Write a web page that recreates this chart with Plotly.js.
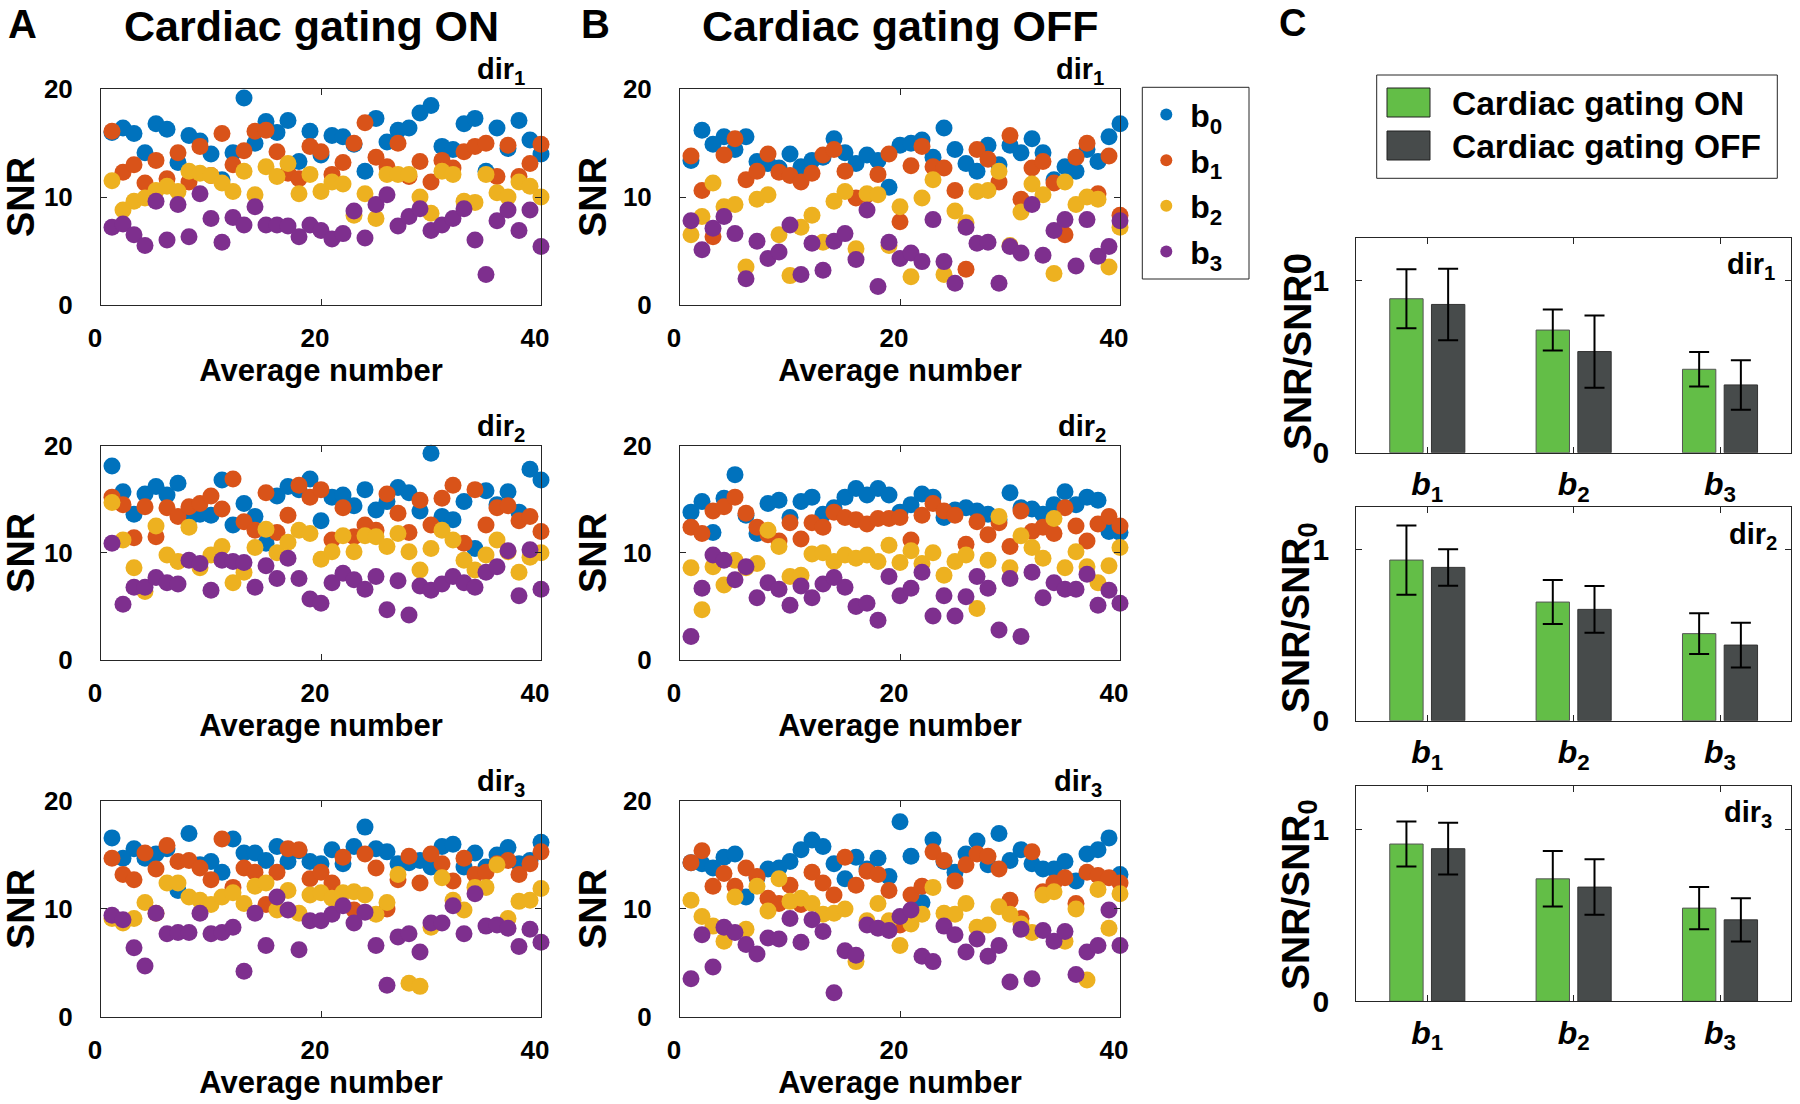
<!DOCTYPE html>
<html>
<head>
<meta charset="utf-8">
<script src="https://cdn.plot.ly/plotly-3.0.1.min.js"></script>
<style>html,body{margin:0;padding:0;background:#fff;}#chart{width:1800px;height:1104px;}</style>
</head>
<body>
<div id="chart"></div>
<script>
// ---------- data ----------
const avgNumber = [1,2,3,4,5,6,7,8,9,10,11,12,13,14,15,16,17,18,19,20,21,22,23,24,25,26,27,28,29,30,31,32,33,34,35,36,37,38,39,40];
const seriesNames = ['b<sub>0</sub>','b<sub>1</sub>','b<sub>2</sub>','b<sub>3</sub>'];

// Cardiac gating ON
const onD1_b0 = [16.0,16.4,15.9,14.1,16.8,16.3,13.2,15.7,15.2,14.0,11.6,14.1,19.2,15.0,17.0,16.0,17.1,13.3,16.1,13.9,15.7,15.6,14.9,12.4,17.3,15.1,16.2,16.4,17.8,18.5,14.7,14.4,16.8,17.3,12.4,16.4,14.5,17.1,15.3,14.0];
const onD1_b1 = [16.1,12.3,13.0,11.3,13.4,11.7,14.1,11.4,14.7,12.0,15.9,13.0,14.3,16.1,16.2,14.2,12.2,11.7,14.7,14.2,12.1,13.2,15.0,16.9,13.7,12.8,15.0,11.9,13.3,11.4,13.4,12.7,14.2,14.7,15.0,11.9,14.8,11.9,13.1,14.9];
const onD1_b2 = [11.5,8.8,9.6,9.9,10.6,11.0,10.5,12.4,12.2,12.0,11.3,10.5,12.4,10.2,12.8,11.9,13.1,10.3,12.1,10.5,11.4,11.2,8.3,10.3,8.0,12.1,12.1,12.1,10.0,8.5,12.4,12.1,9.6,9.5,12.1,10.4,10.0,11.4,11.0,10.0];
const onD1_b3 = [7.2,7.5,6.5,5.5,9.6,6.0,9.3,6.3,10.3,8.0,5.8,8.1,7.4,9.1,7.4,7.4,7.3,6.3,7.4,6.9,6.1,6.6,8.7,6.2,9.3,10.2,7.3,8.2,8.9,6.9,7.4,8.0,8.9,6.0,2.8,7.8,8.8,6.9,8.8,5.4];

const onD2_b0 = [18.1,15.7,13.6,15.5,16.2,15.4,16.5,13.2,13.6,13.5,16.8,12.6,14.6,13.4,10.9,15.3,16.2,15.9,16.9,13.0,15.2,15.4,14.4,15.9,14.0,14.8,16.1,15.6,13.9,19.3,13.4,13.1,14.8,10.4,15.8,14.5,15.7,13.8,17.8,16.8];
const onD2_b1 = [15.2,14.5,11.4,14.3,11.5,14.2,13.4,14.3,14.6,15.3,14.1,16.9,12.9,12.1,15.6,11.9,13.5,16.3,15.2,15.9,11.2,14.2,11.5,12.6,12.1,15.5,13.7,11.9,14.9,12.6,15.1,16.3,10.9,15.9,12.6,14.2,14.4,13.0,13.4,12.0];
const onD2_b2 = [14.7,11.2,8.6,6.4,12.5,9.8,9.2,12.4,8.6,9.8,10.6,7.2,8.2,10.5,12.2,10.0,11.0,12.1,11.8,9.4,10.1,11.6,10.1,11.6,11.5,10.6,11.8,10.1,8.4,10.4,12.1,11.2,9.3,8.4,9.8,11.2,10.1,8.2,9.6,10.0];
const onD2_b3 = [10.9,5.2,6.8,6.8,7.7,7.2,7.1,9.3,9.0,6.5,9.3,9.2,9.1,6.8,8.8,7.6,9.5,7.6,5.7,5.3,7.2,8.1,7.5,6.6,7.8,4.7,7.4,4.2,6.9,6.5,7.1,7.8,7.2,6.8,8.2,8.7,10.2,6.0,10.3,6.6];

const onD3_b0 = [16.6,14.7,15.6,14.7,15.1,15.6,11.7,17.0,14.1,14.4,13.4,16.5,15.2,15.2,14.5,15.8,14.4,15.4,14.4,14.2,15.5,14.2,15.8,17.6,15.6,15.3,14.2,14.3,14.5,13.9,15.8,16.0,13.9,15.2,13.9,15.0,15.7,14.2,14.5,16.2];
const onD3_b1 = [14.7,13.2,12.7,15.2,13.7,15.9,14.4,14.5,13.8,12.7,16.5,12.0,13.8,13.4,10.4,13.4,15.6,15.5,12.8,13.4,12.4,14.8,9.9,15.1,13.8,10.0,12.7,14.9,12.4,15.1,14.2,12.6,14.7,13.2,13.4,14.2,14.5,13.2,14.2,15.3];
const onD3_b2 = [9.1,8.7,9.1,10.6,9.6,12.4,12.4,11.1,10.8,10.4,11.1,11.5,10.5,12.1,12.4,9.9,11.7,9.6,11.3,11.5,11.0,11.5,11.6,11.3,9.5,10.6,13.2,3.1,2.8,8.3,12.9,10.8,9.9,12.0,12.0,14.1,9.1,10.7,10.8,11.9];
const onD3_b3 = [9.4,9.0,6.4,4.7,9.6,7.7,7.8,7.8,9.6,7.7,7.8,8.3,4.2,9.6,6.6,11.1,9.9,6.2,8.9,8.9,9.5,10.3,8.7,9.7,6.6,2.9,7.4,7.7,6.0,8.7,8.7,10.3,7.7,11.4,8.4,8.5,8.2,6.5,8.1,6.9];

// Cardiac gating OFF
const offD1_b0 = [13.4,16.2,14.9,15.6,14.4,15.6,13.3,13.1,12.7,14.0,12.8,13.4,13.7,15.4,14.1,13.1,13.9,13.4,10.9,14.8,15.0,15.3,13.7,16.4,14.4,13.1,12.4,14.8,13.0,14.8,14.1,15.4,14.1,11.6,12.8,12.4,14.4,13.3,15.6,16.8];
const offD1_b1 = [13.8,10.6,6.3,13.9,15.4,11.6,12.4,14.0,12.3,12.0,11.4,12.2,13.9,14.4,12.4,9.9,10.2,12.1,14.0,7.7,12.9,14.7,12.8,12.7,10.6,3.3,14.4,13.5,11.4,15.7,9.8,12.7,13.3,11.3,6.5,13.7,15.0,10.3,13.8,8.3];
const offD1_b2 = [6.5,8.2,11.3,9.1,9.3,3.5,9.8,10.2,6.5,2.7,7.2,8.3,5.8,9.6,10.5,5.2,10.3,10.2,5.5,9.1,2.6,9.9,11.6,2.8,8.7,7.6,10.5,10.6,12.4,5.5,8.6,11.2,10.2,2.9,11.4,9.3,10.0,9.8,3.5,7.2];
const offD1_b3 = [7.8,5.1,7.1,8.2,6.6,2.4,5.9,4.3,4.9,7.4,2.8,5.7,3.2,5.9,6.6,4.2,8.8,1.7,5.8,4.3,4.8,4.0,7.9,4.0,2.0,7.2,5.7,5.8,2.0,5.4,4.8,9.3,4.6,6.9,7.9,3.6,7.9,4.5,5.4,7.8];

const offD2_b0 = [13.8,14.8,11.9,15.1,17.3,13.5,11.8,14.6,14.9,13.3,14.8,15.2,13.6,14.2,15.2,16.0,15.4,16.0,15.4,13.8,14.5,15.5,15.2,13.3,14.0,14.2,13.9,13.6,13.1,15.6,14.2,14.1,13.6,14.5,15.7,14.5,15.2,14.9,12.0,11.9];
const offD2_b1 = [12.4,11.8,13.9,14.3,15.2,13.7,12.4,11.7,11.1,12.8,11.3,12.8,12.4,13.8,13.3,13.1,12.7,13.2,13.2,13.3,11.2,13.5,14.6,13.9,13.5,10.8,12.9,11.7,12.8,10.6,13.9,12.0,12.4,11.8,14.2,12.5,11.1,12.7,13.4,12.5];
const offD2_b2 = [8.6,4.7,8.7,7.0,9.3,8.6,9.0,12.1,10.6,7.8,7.9,9.9,10.0,9.2,9.8,9.5,9.8,9.2,10.7,9.1,10.2,9.0,10.0,7.9,9.2,9.8,4.8,9.3,13.4,8.6,11.6,10.5,9.5,13.2,8.6,10.1,8.7,7.2,8.8,10.5];
const offD2_b3 = [2.2,6.7,9.8,9.3,7.5,8.7,5.8,7.2,6.6,5.1,6.9,5.8,7.1,7.7,6.8,5.0,5.3,3.7,7.8,6.0,6.7,8.2,4.1,6.0,4.1,5.9,7.8,6.7,2.8,7.6,2.2,8.2,5.8,7.2,6.6,6.6,8.0,5.1,6.5,5.3];

const offD3_b0 = [14.3,14.2,13.8,14.8,15.1,11.1,12.9,13.7,13.8,14.4,15.5,16.4,15.8,14.2,12.8,14.8,13.7,14.7,13.0,18.1,14.9,10.6,16.4,14.4,13.4,15.1,16.3,14.1,17.0,14.5,15.5,14.2,13.7,13.7,14.4,12.6,15.1,15.5,16.6,13.2];
const offD3_b1 = [14.3,15.4,12.1,13.3,12.1,13.8,13.0,11.0,10.5,12.2,10.4,13.4,12.4,11.3,14.8,12.2,13.5,13.2,11.7,8.5,11.3,12.1,15.3,14.5,12.6,14.1,15.1,14.9,13.7,10.8,9.1,15.3,11.6,12.4,12.9,10.5,13.4,13.1,12.9,12.4];
const offD3_b2 = [10.8,9.3,8.4,7.0,11.1,8.1,12.1,9.8,12.8,10.7,11.0,10.5,9.5,9.6,10.0,5.1,8.9,10.5,8.9,6.6,8.6,9.5,12.0,9.6,9.5,10.5,8.3,8.5,10.2,9.5,8.6,7.8,11.3,11.6,7.0,10.0,3.4,11.8,8.2,11.4];
const offD3_b3 = [3.5,7.6,4.6,8.3,7.8,6.7,5.8,7.3,7.2,9.1,6.9,9.0,7.9,2.2,6.1,5.7,8.5,8.2,8.0,9.3,9.9,5.6,5.1,8.4,7.6,6.0,7.2,5.6,6.6,3.2,8.1,3.5,8.0,7.0,7.9,3.9,6.0,6.6,9.9,6.6];

// Bar panel C (SNR / SNR0)
const barCats = ['b1','b2','b3'];
const barTickText = ['<i>b</i><sub>1</sub>','<i>b</i><sub>2</sub>','<i>b</i><sub>3</sub>'];
const barD1_on = [0.895,0.713,0.485];  const barD1_onErr = [0.172,0.119,0.100];
const barD1_off = [0.862,0.588,0.394]; const barD1_offErr = [0.208,0.210,0.144];
const barD2_on = [0.941,0.695,0.510];  const barD2_onErr = [0.203,0.129,0.119];
const barD2_off = [0.898,0.652,0.443]; const barD2_offErr = [0.107,0.137,0.131];
const barD3_on = [0.913,0.711,0.541];  const barD3_onErr = [0.131,0.161,0.123];
const barD3_off = [0.886,0.663,0.473]; const barD3_offErr = [0.150,0.161,0.126];

// ---------- styling ----------
const colors = ['#0072BD','#D95319','#EDB120','#7E2F8E'];
const greenCol = '#63BE47', darkCol = '#474B4B';
const FONT = 'Liberation Sans, Arial, Helvetica, sans-serif';
const W = 1800, H = 1104;
const px = v => v / W;
const py = v => 1 - v / H;

const traces = [];
function addScatterPanel(seriesArr, xa, ya, showLeg) {
  seriesArr.forEach((ys, k) => {
    traces.push({
      type: 'scatter', mode: 'markers', x: avgNumber, y: ys,
      xaxis: xa, yaxis: ya, name: seriesNames[k],
      legendgroup: 'g' + k, showlegend: showLeg,
      cliponaxis: false,
      marker: {size: 17, color: colors[k], line: {width: 0}}
    });
  });
}
addScatterPanel([onD1_b0,onD1_b1,onD1_b2,onD1_b3], 'x', 'y', true);
addScatterPanel([offD1_b0,offD1_b1,offD1_b2,offD1_b3], 'x2', 'y2', false);
addScatterPanel([onD2_b0,onD2_b1,onD2_b2,onD2_b3], 'x3', 'y3', false);
addScatterPanel([offD2_b0,offD2_b1,offD2_b2,offD2_b3], 'x4', 'y4', false);
addScatterPanel([onD3_b0,onD3_b1,onD3_b2,onD3_b3], 'x5', 'y5', false);
addScatterPanel([offD3_b0,offD3_b1,offD3_b2,offD3_b3], 'x6', 'y6', false);

function addBarPanel(on, onErr, off, offErr, xa, ya) {
  traces.push({type:'bar', x: barCats, y: on, xaxis: xa, yaxis: ya, showlegend:false, name:'Cardiac gating ON',
    marker:{color: greenCol, line:{color:'#555555', width:1}},
    error_y:{type:'data', array: onErr, color:'#000', thickness:2, width:10}});
  traces.push({type:'bar', x: barCats, y: off, xaxis: xa, yaxis: ya, showlegend:false, name:'Cardiac gating OFF',
    marker:{color: darkCol, line:{color:'#333333', width:1}},
    error_y:{type:'data', array: offErr, color:'#000', thickness:2, width:10}});
}
addBarPanel(barD1_on, barD1_onErr, barD1_off, barD1_offErr, 'x7', 'y7');
addBarPanel(barD2_on, barD2_onErr, barD2_off, barD2_offErr, 'x8', 'y8');
addBarPanel(barD3_on, barD3_onErr, barD3_off, barD3_offErr, 'x9', 'y9');

const tickFont = {family: FONT, size: 26, color: '#000', weight: 'bold'};
const lineCol = '#262626';
function baseAxis(extra) {
  return Object.assign({
    showline: true, linecolor: lineCol, linewidth: 1, mirror: 'ticks',
    ticks: 'inside', ticklen: 6, tickcolor: lineCol, tickwidth: 1,
    showgrid: false, zeroline: false, tickfont: tickFont, fixedrange: true
  }, extra);
}
const colA = [px(101), px(541)];
const colB = [px(680), px(1120)];
const colC = [px(1356.3), px(1790.7)];
const rows = [[py(304.7), py(89.3)], [py(660), py(445.7)], [py(1016.5), py(801.3)]];
const barRows = [[py(452.7), py(237.7)], [py(720.7), py(507.3)], [py(1001.3), py(786)]];

const layout = {
  width: W, height: H, margin: {l:0, r:0, t:0, b:0},
  paper_bgcolor: '#fff', plot_bgcolor: '#fff',
  font: {family: FONT, color: '#000'},
  barmode: 'group', bargap: 0.43, bargroupgap: 0.2,
  legend: {x: px(1142.3), y: py(87.3), xanchor: 'left', yanchor: 'top',
    borderwidth: 0, bgcolor: 'rgba(0,0,0,0)',
    font: {family: FONT, size: 32, weight: 'bold', color: '#000'},
    traceorder: 'grouped', tracegroupgap: 1, itemsizing: 'constant', itemwidth: 38},
  shapes: [], annotations: []
};

const xTitle = {text: 'Average number', font: {family: FONT, size: 31, weight: 'bold', color: '#000'}, standoff: 5};
const yTitle = {text: 'SNR', font: {family: FONT, size: 38, weight: 'bold', color: '#000'}, standoff: 4};
const scatterPanels = [
  ['xaxis','yaxis', colA, rows[0], 'x', 'y'],
  ['xaxis2','yaxis2', colB, rows[0], 'x2', 'y2'],
  ['xaxis3','yaxis3', colA, rows[1], 'x3', 'y3'],
  ['xaxis4','yaxis4', colB, rows[1], 'x4', 'y4'],
  ['xaxis5','yaxis5', colA, rows[2], 'x5', 'y5'],
  ['xaxis6','yaxis6', colB, rows[2], 'x6', 'y6']
];
scatterPanels.forEach(p => {
  layout[p[0]] = baseAxis({domain: p[2], anchor: p[5], range: [0, 40], tickvals: [0, 20, 40],
    ticklabelstandoff: 10, ticklabelshift: -6, title: xTitle});
  layout[p[1]] = baseAxis({domain: p[3], anchor: p[4], range: [0, 20], tickvals: [0, 10, 20],
    ticklabelstandoff: 22, title: yTitle});
});
['7','8','9'].forEach((n, i) => {
  layout['xaxis' + n] = baseAxis({domain: colC, anchor: 'y' + n, type: 'category',
    range: [-0.485, 2.483], tickvals: barCats, ticktext: barTickText,
    tickfont: {family: FONT, size: 32, weight: 'bold', color: '#000'}, ticklabelstandoff: 3});
  layout['yaxis' + n] = baseAxis({domain: barRows[i], anchor: 'x' + n, range: [0, 1.25], tickvals: [0, 1],
    tickfont: {family: FONT, size: 30, weight: 'bold', color: '#000'}, ticklabelstandoff: 20});
});

function ann(text, x, y, size, xanchor, extra) {
  layout.annotations.push(Object.assign({text: text, xref: 'paper', yref: 'paper', x: px(x), y: py(y),
    xanchor: xanchor || 'center', yanchor: 'middle', showarrow: false,
    font: {family: FONT, size: size, weight: 'bold', color: '#000'}}, extra || {}));
}
// panel letters and column titles (anchored at the top edge)
ann('A', 22, 0, 40, 'center', {yanchor: 'top'});
ann('Cardiac gating ON', 311, 0, 43, 'center', {yanchor: 'top'});
ann('B', 595, 0, 40, 'center', {yanchor: 'top'});
ann('Cardiac gating OFF', 900, 0, 43, 'center', {yanchor: 'top'});
ann('C', 1292, 0, 38, 'center', {yanchor: 'top'});

// bar-panel axis titles
const barTitles = ['SNR/SNR0', 'SNR/SNR<sub>0</sub>', 'SNR/SNR<sub>0</sub>'];
const barTitleY = [352, 618, 895];
barTitles.forEach((t, i) => ann(t, 1298, barTitleY[i], 39, 'center', {textangle: -90}));

// direction labels
ann('dir<sub>1</sub>', 527, 71, 29, 'right');
ann('dir<sub>2</sub>', 527, 428, 29, 'right');
ann('dir<sub>3</sub>', 527, 783, 29, 'right');
ann('dir<sub>1</sub>', 1106, 71, 29, 'right');
ann('dir<sub>2</sub>', 1108, 428, 29, 'right');
ann('dir<sub>3</sub>', 1104, 783, 29, 'right');
ann('dir<sub>1</sub>', 1777, 266, 29, 'right');
ann('dir<sub>2</sub>', 1779, 536, 29, 'right');
ann('dir<sub>3</sub>', 1774, 814, 29, 'right');

// frame of the b-value legend
layout.shapes.push({type:'rect', xref:'paper', yref:'paper', x0: px(1142.3), x1: px(1249), y0: py(279), y1: py(87.3),
  line:{color: lineCol, width:1}, fillcolor:'rgba(0,0,0,0)'});

// legend for bar panel (C)
layout.shapes.push({type:'rect', xref:'paper', yref:'paper', x0: px(1376.7), x1: px(1777.3), y0: py(178.3), y1: py(75),
  line:{color: lineCol, width:1}, fillcolor:'rgba(0,0,0,0)'});
layout.shapes.push({type:'rect', xref:'paper', yref:'paper', x0: px(1387), x1: px(1430), y0: py(117), y1: py(88),
  line:{color:'#222', width:1}, fillcolor: greenCol});
layout.shapes.push({type:'rect', xref:'paper', yref:'paper', x0: px(1387), x1: px(1430), y0: py(160), y1: py(131),
  line:{color:'#222', width:1}, fillcolor: darkCol});
ann('Cardiac gating ON', 1450, 103, 33.5, 'left');
ann('Cardiac gating OFF', 1450, 146, 33.5, 'left');

Plotly.newPlot('chart', traces, layout, {staticPlot: true, displayModeBar: false});
</script>
</body>
</html>
